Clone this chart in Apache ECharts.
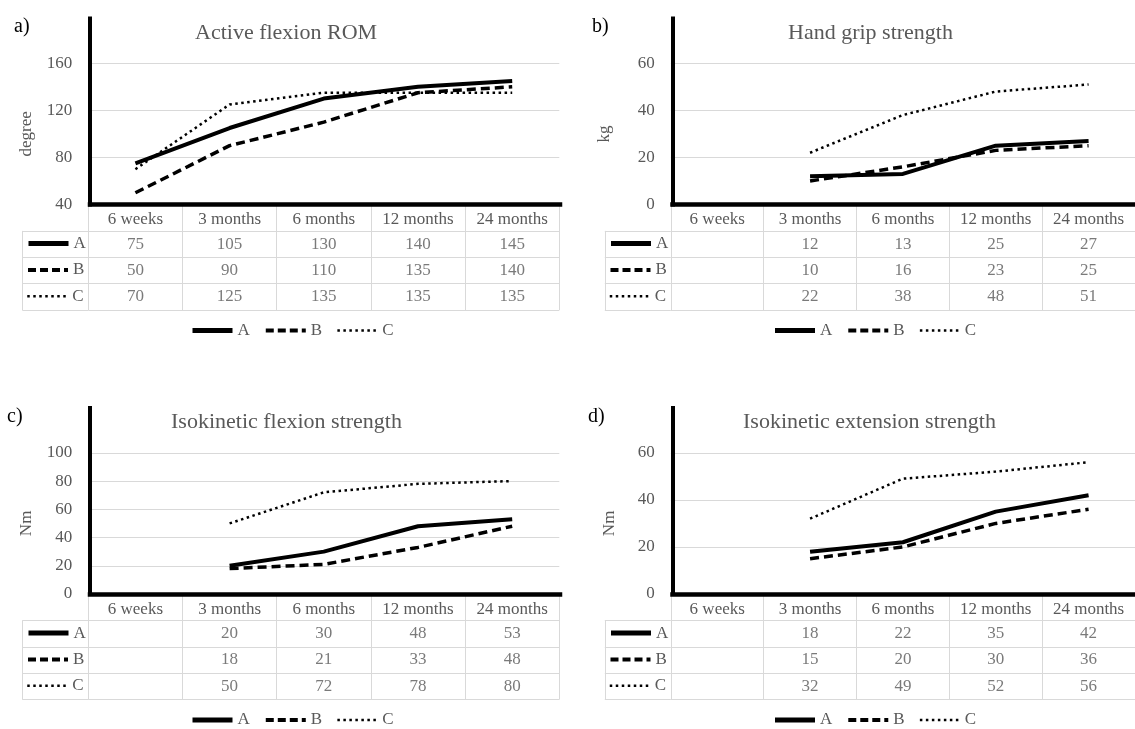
<!DOCTYPE html>
<html>
<head>
<meta charset="utf-8">
<script src="https://cdn.jsdelivr.net/npm/echarts@6/dist/echarts.min.js"></script>
<style>
html,body{margin:0;padding:0;background:#fff;}
#chart{width:1135px;height:729px;}
</style>
</head>
<body>
<div id="chart"></div>
<script>
// ---------- data ----------
const categories = ['6 weeks', '3 months', '6 months', '12 months', '24 months'];
const groupNames = ['A', 'B', 'C'];

const romA = [75, 105, 130, 140, 145];
const romB = [50, 90, 110, 135, 140];
const romC = [70, 125, 135, 135, 135];

const gripA = [null, 12, 13, 25, 27];
const gripB = [null, 10, 16, 23, 25];
const gripC = [null, 22, 38, 48, 51];

const flexA = [null, 20, 30, 48, 53];
const flexB = [null, 18, 21, 33, 48];
const flexC = [null, 50, 72, 78, 80];

const extA = [null, 18, 22, 35, 42];
const extB = [null, 15, 20, 30, 36];
const extC = [null, 32, 49, 52, 56];

const panelLetters = ['a)', 'b)', 'c)', 'd)'];
const panelTitles = ['Active flexion ROM', 'Hand grip strength', 'Isokinetic flexion strength', 'Isokinetic extension strength'];
const unitNames = ['degree', 'kg', 'Nm', 'Nm'];
const yMins = [40, 0, 0, 0];
const yMaxs = [160, 60, 100, 60];
const ySteps = [40, 20, 20, 20];
const panelData = [[romA, romB, romC], [gripA, gripB, gripC], [flexA, flexB, flexC], [extA, extB, extC]];

// ---------- layout / style ----------
const FONT = 'Liberation Serif';
const TXT = '#595959';
const GRID_C = '#d9d9d9';
const DX = [0, 582.5, 0, 582.5];
const DY = [0, 0, 389.5, 389.5];
const TITLE_X = [195, 788, 171, 743];
const LETTER_X = [14, 592, 7, 588];
const NAME_GAP = [53, 58, 53, 53];
const FRAME_TOP = 18.5;

const lineStyles = {
  A: {color: '#000', width: 4, type: 'solid'},
  B: {color: '#000', width: 3.5, type: [9, 5]},
  C: {color: '#000', width: 2.5, type: [2.5, 3.5]}
};
const legendLine = {
  A: {color: '#000', width: 5, type: 'solid'},
  B: {color: '#000', width: 4, type: [8, 4]},
  C: {color: '#000', width: 2.5, type: [2.5, 3.5]}
};
const hiddenSymbol = {color: 'rgba(0,0,0,0)', borderWidth: 0, opacity: 0};

const option = {
  animation: false,
  backgroundColor: '#fff',
  textStyle: {fontFamily: FONT},
  title: [], grid: [], xAxis: [], yAxis: [], legend: [], series: []
};

const TABLE_LEFT = 88.3, TABLE_W = 471;
const AX_Y = 204.5;        // x-axis line (bottom of plot)
const PLOT_TOP = 63.3;     // top gridline
const ROW_H = 26.375;

panelData.forEach((rows, i) => {
  const dx = DX[i], dy = DY[i];
  const gBase = option.grid.length;

  // titles
  option.title.push({
    text: panelLetters[i], left: LETTER_X[i], top: 17 + dy, padding: 0,
    textStyle: {fontFamily: FONT, fontSize: 20, fontWeight: 'normal', color: '#000'}
  });
  option.title.push({
    text: panelTitles[i], left: TITLE_X[i], top: 22 + dy, padding: 0,
    textStyle: {fontFamily: FONT, fontSize: 22, fontWeight: 'normal', color: TXT}
  });

  // grid 0: plot
  option.grid.push({left: TABLE_LEFT + dx, top: PLOT_TOP + dy, width: TABLE_W, height: AX_Y - PLOT_TOP, containLabel: false});
  // grid 1: table (header + 3 rows)
  option.grid.push({left: TABLE_LEFT + dx, top: AX_Y + dy, width: TABLE_W, height: ROW_H * 4, containLabel: false});
  // grid 2: legend column of table
  option.grid.push({left: 22.3 + dx, top: AX_Y + ROW_H + dy, width: TABLE_LEFT - 22.3, height: ROW_H * 3, containLabel: false});
  // grid 3: thick frame axes
  option.grid.push({left: 90 + dx, top: FRAME_TOP + dy, width: 470, height: AX_Y - FRAME_TOP, containLabel: false});

  // plot axes
  option.xAxis.push({
    gridIndex: gBase, type: 'category', data: categories, boundaryGap: true,
    axisLine: {show: false}, axisTick: {show: false}, splitLine: {show: false},
    axisLabel: {interval: 0, margin: 7, fontSize: 17, color: TXT, fontFamily: FONT}
  });
  option.yAxis.push({
    gridIndex: gBase, type: 'value', min: yMins[i], max: yMaxs[i], interval: ySteps[i],
    name: unitNames[i], nameLocation: 'middle', nameGap: NAME_GAP[i],
    nameTextStyle: {fontSize: 17, color: TXT, fontFamily: FONT},
    axisLine: {show: false}, axisTick: {show: false},
    splitLine: {show: true, lineStyle: {color: GRID_C, width: 1}},
    axisLabel: {margin: 16, fontSize: 17, color: TXT, fontFamily: FONT, padding: [3, 0, 0, 0]}
  });
  // table axes
  option.xAxis.push({
    gridIndex: gBase + 1, type: 'category', data: categories, boundaryGap: true,
    axisLine: {show: false}, axisTick: {show: false}, axisLabel: {show: false},
    splitLine: {show: true, interval: 0, lineStyle: {color: GRID_C, width: 1}}
  });
  option.yAxis.push({
    gridIndex: gBase + 1, type: 'category', data: [''].concat(groupNames), inverse: true, boundaryGap: true,
    axisLine: {show: false}, axisTick: {show: false}, axisLabel: {show: false},
    splitLine: {show: true, interval: 0, lineStyle: {color: GRID_C, width: 1}}
  });
  // legend column axes
  option.xAxis.push({
    gridIndex: gBase + 2, type: 'category', data: [''], boundaryGap: true,
    axisLine: {show: false}, axisTick: {show: false}, axisLabel: {show: false},
    splitLine: {show: true, interval: 0, lineStyle: {color: GRID_C, width: 1}}
  });
  option.yAxis.push({
    gridIndex: gBase + 2, type: 'category', data: groupNames, inverse: true, boundaryGap: true,
    axisLine: {show: false}, axisTick: {show: false}, axisLabel: {show: false},
    splitLine: {show: true, interval: 0, lineStyle: {color: GRID_C, width: 1}}
  });
  // frame axes
  option.xAxis.push({
    gridIndex: gBase + 3, type: 'value', min: 0, max: 1, z: 10,
    axisLine: {show: true, onZero: false, lineStyle: {color: '#000', width: 4.5, cap: 'square'}},
    axisTick: {show: false}, axisLabel: {show: false}, splitLine: {show: false}
  });
  option.yAxis.push({
    gridIndex: gBase + 3, type: 'value', min: 0, max: 1, z: 10,
    axisLine: {show: true, onZero: false, lineStyle: {color: '#000', width: 4, cap: 'square'}},
    axisTick: {show: false}, axisLabel: {show: false}, splitLine: {show: false}
  });

  // lines
  rows.forEach((vals, k) => {
    const nm = groupNames[k];
    option.series.push({
      type: 'line', name: nm, xAxisIndex: gBase, yAxisIndex: gBase,
      data: vals, symbol: 'none', silent: true,
      itemStyle: {color: '#000'},
      lineStyle: lineStyles[nm], z: 3 + (2 - k)
    });
  });

  // table values
  const cells = [];
  rows.forEach((vals, k) => {
    vals.forEach((v, c) => { if (v !== null) cells.push([c, k + 1, v]); });
  });
  option.series.push({
    type: 'scatter', name: 'table' + i, xAxisIndex: gBase + 1, yAxisIndex: gBase + 1,
    data: cells, symbolSize: 1, silent: true,
    itemStyle: {color: 'transparent'},
    label: {show: true, position: 'inside', formatter: p => String(p.value[2]),
            fontSize: 17, color: TXT, fontFamily: FONT}
  });

  // row legends in table
  groupNames.forEach((nm, k) => {
    const cy = AX_Y + ROW_H * (k + 1.5);
    option.legend.push({
      data: [{name: nm, lineStyle: legendLine[nm], itemStyle: hiddenSymbol}],
      left: 26 + dx, top: cy - 9 + dy, padding: 0,
      itemWidth: 40, itemHeight: 18, selectedMode: false,
      textStyle: {fontSize: 17, color: TXT, fontFamily: FONT}
    });
  });
  // bottom legend
  option.legend.push({
    data: groupNames.map(nm => ({name: nm, lineStyle: legendLine[nm], itemStyle: hiddenSymbol})),
    left: 190 + dx, top: 331 - 9 + dy, padding: 0, orient: 'horizontal',
    itemWidth: 40, itemHeight: 18, itemGap: 14, selectedMode: false,
    textStyle: {fontSize: 17, color: TXT, fontFamily: FONT}
  });
});

const chart = echarts.init(document.getElementById('chart'), null, {renderer: 'canvas'});
chart.setOption(option);
</script>
</body>
</html>
